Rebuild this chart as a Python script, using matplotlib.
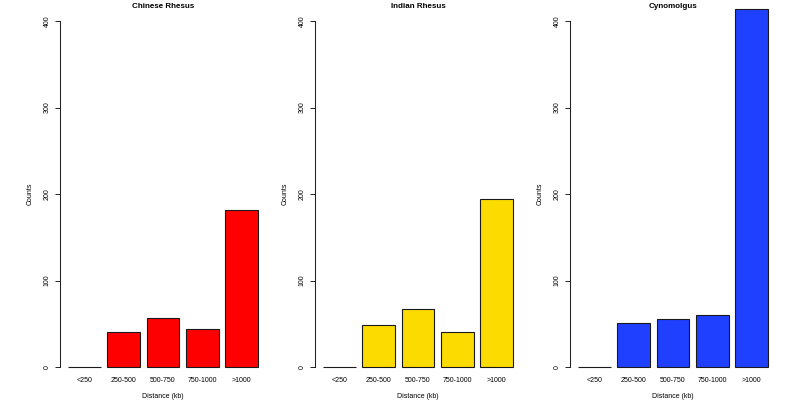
import matplotlib
matplotlib.use("Agg")
import matplotlib.pyplot as plt

plt.rcParams['font.family'] = ['Liberation Sans', 'DejaVu Sans']

categories = ["<250", "250-500", "500-750", "750-1000", ">1000"]
titles = ["Chinese Rhesus", "Indian Rhesus", "Cynomolgus"]
chinese = [0, 41, 57, 44, 182]
indian = [0, 49, 67, 41, 194]
cyno = [0, 51, 56, 60, 414]
series = [chinese, indian, cyno]
colors = ["#FF0000", "#FCDC00", "#2040FF"]
yticks = [0, 100, 200, 300, 400]

W, H = 798, 401
fig = plt.figure(figsize=(W / 100, H / 100), dpi=100)

left_px = [60, 315, 570]
ax_w = 206
top_px, bot_px = 21, 367

xpos = [0.7 + 1.2 * i for i in range(len(categories))]

for lp, vals, col, title in zip(left_px, series, colors, titles):
    ax = fig.add_axes([lp / W, (H - bot_px) / H, ax_w / W, (bot_px - top_px) / H])
    ax.bar(xpos, vals, width=1.0, color=col, edgecolor="#1a1a1a",
           linewidth=0.8, clip_on=False)
    ax.set_xlim(-0.032, 6.232)
    ax.set_ylim(0, 400)
    for s in ["top", "right", "bottom"]:
        ax.spines[s].set_visible(False)
    ax.spines["left"].set_linewidth(0.75)
    ax.spines["left"].set_color("#222222")
    ax.set_yticks(yticks)
    ax.set_yticklabels([str(v) for v in yticks], rotation=90, va="center",
                       fontsize=5.0)
    ax.tick_params(axis="y", length=3.6, width=0.7, pad=3, color="#222222")
    ax.set_xticks(xpos)
    ax.set_xticklabels(categories, fontsize=5.0)
    ax.tick_params(axis="x", length=0, pad=7)
    ax.set_xlabel("Distance (kb)", fontsize=5.0, labelpad=6.5)
    ax.set_ylabel("Counts", fontsize=5.0, labelpad=7)
    ax.set_title(title, fontsize=5.8, fontweight="bold", pad=9.7)
    ax.patch.set_visible(False)

fig.savefig("out.png", dpi=100)
